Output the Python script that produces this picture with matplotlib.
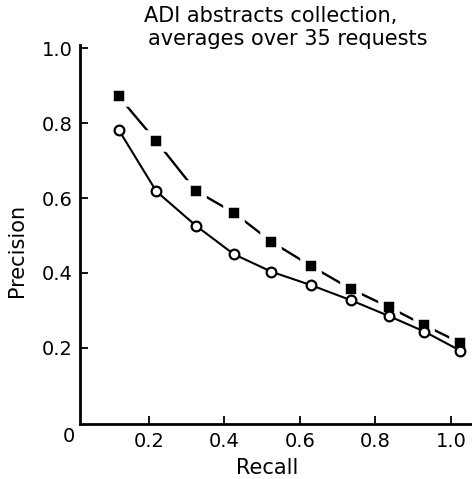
import matplotlib
matplotlib.use("Agg")
import matplotlib.pyplot as plt

# recall levels (as plotted, slightly offset from the tick marks)
recall = [0.12, 0.22, 0.325, 0.425, 0.525, 0.63, 0.735, 0.835, 0.93, 1.025]

# filled squares (upper curve) and open circles (lower curve)
precision_sq = [0.872, 0.752, 0.619, 0.561, 0.483, 0.418, 0.357, 0.309, 0.260, 0.213]
precision_circ = [0.783, 0.618, 0.526, 0.450, 0.403, 0.367, 0.327, 0.285, 0.243, 0.192]

x_ticks = [0.2, 0.4, 0.6, 0.8, 1.0]
y_ticks = [0.2, 0.4, 0.6, 0.8, 1.0]

DPI = 100
fig = plt.figure(figsize=(4.72, 4.79), dpi=DPI)
ax = fig.add_axes([80 / 472, 1 - 424 / 479, 1 - 80 / 472, (424 - 45) / 479])

# squares: white halo around each marker gives the gaps in the line
ax.plot(recall, precision_sq, color="black", linewidth=1.7,
        marker="s", markersize=11, markerfacecolor="black",
        markeredgecolor="white", markeredgewidth=4, zorder=2)
ax.plot(recall, precision_circ, color="black", linewidth=1.5,
        marker="o", markersize=7, markerfacecolor="white",
        markeredgecolor="black", markeredgewidth=1.6, zorder=3)

ax.set_xlim(0.018, 1.056)
ax.set_ylim(-0.004, 1.009)

ax.set_xticks(x_ticks)
ax.set_yticks(y_ticks)
ax.set_xticklabels([f"{t:.1f}" for t in x_ticks])
ax.set_yticklabels([f"{t:.1f}" for t in y_ticks])
ax.tick_params(axis="both", direction="in", length=6, width=1.3,
               labelsize=14, colors="black")
ax.tick_params(axis="x", pad=6)
ax.tick_params(axis="y", pad=5)

for side in ["top", "right"]:
    ax.spines[side].set_visible(False)
for side in ["left", "bottom"]:
    ax.spines[side].set_linewidth(2)

# origin label shared by both axes
fig.text(69 / 472, 1 - 437 / 479, "0", fontsize=14, ha="center", va="center")

ax.set_xlabel("Recall", fontsize=15, va="center")
ax.set_ylabel("Precision", fontsize=15, va="center")
ax.xaxis.set_label_coords((267 - 80) / 392, (424 - 468) / 379)
ax.yaxis.set_label_coords((17 - 80) / 392, (424 - 250) / 379)

fig.text(271 / 472, 1 - 16 / 479, "ADI abstracts collection,",
         fontsize=15, ha="center", va="center")
fig.text(288 / 472, 1 - 39 / 479, "averages over 35 requests",
         fontsize=15, ha="center", va="center")

fig.savefig("out.png", dpi=DPI)
